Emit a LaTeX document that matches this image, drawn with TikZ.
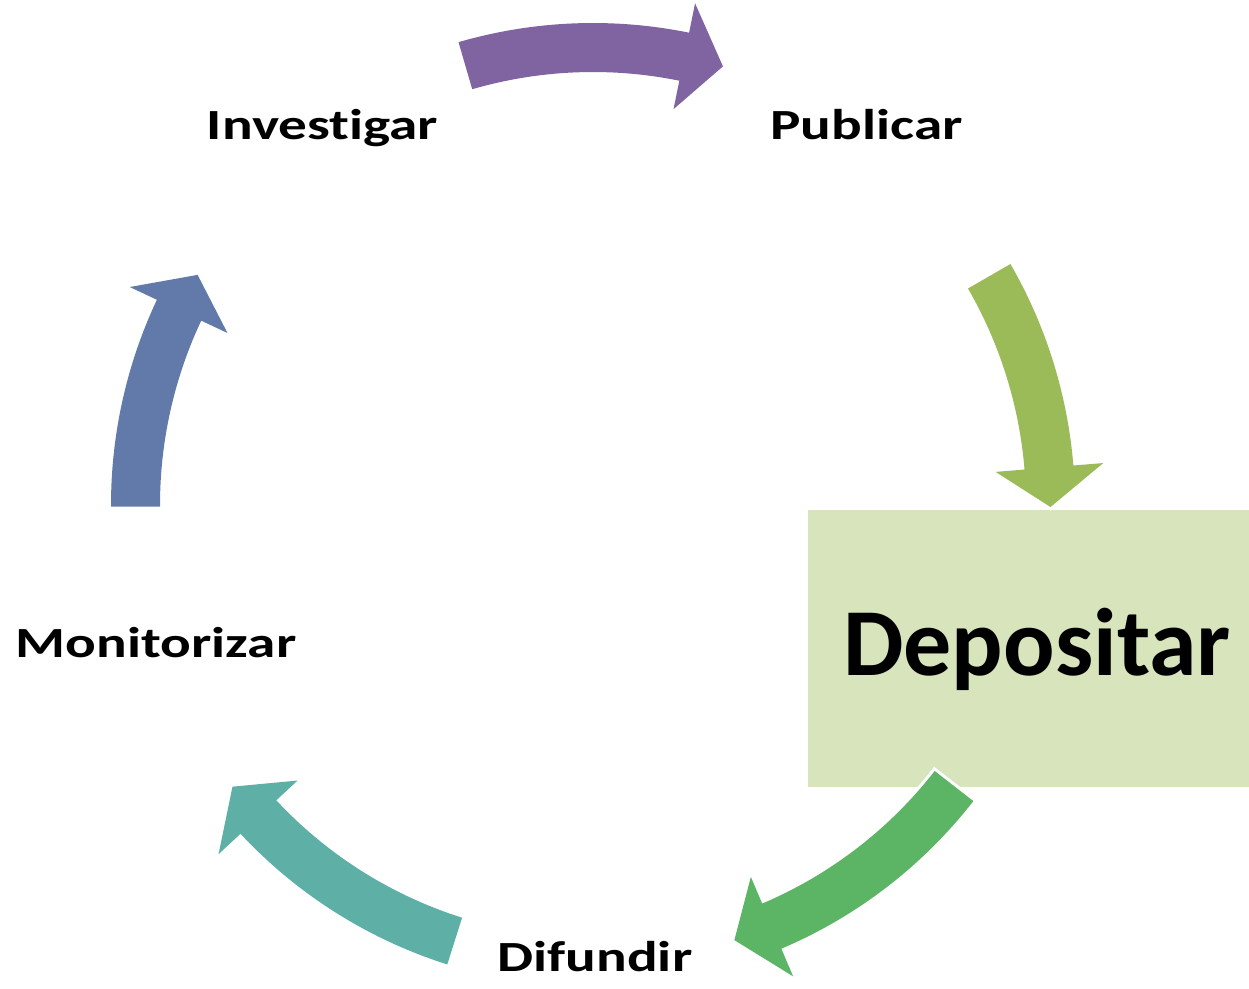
\documentclass[tikz,border=0pt]{standalone}
\usepackage{fontspec}
\setmainfont{Carlito}[Ligatures={NoCommon,NoContextual}]
\newfontfamily\stepfont{Carlito}[FakeStretch=1.33, Ligatures={NoCommon,NoContextual}]

\definecolor{arrowpurple}{RGB}{128,100,162}
\definecolor{arrowlime}{RGB}{155,187,89}
\definecolor{arrowgreen}{RGB}{92,181,101}
\definecolor{arrowteal}{RGB}{94,176,167}
\definecolor{arrowblue}{RGB}{98,122,170}
\definecolor{boxfill}{RGB}{216,228,188}

\tikzset{
  cyclearrow/.style={preaction={draw=white, line width=6pt}},
  steplabel/.style={anchor=base, font=\stepfont\fontsize{43}{50}\selectfont\bfseries},
}

% block arrow on the cycle: colour, tail angle, neck angle, tip angle
\newcommand{\cyclearrow}[4]{%
  \fill[#1, cyclearrow] ([shift={(c)}]#2:482) arc[start angle=#2, end angle=#3, radius=482pt]
    -- ([shift={(c)}]#3:512) -- ([shift={(c)}]#4:457.5) -- ([shift={(c)}]#3:404)
    -- ([shift={(c)}]#3:433) arc[start angle=#3, end angle=#2, radius=433pt] -- cycle;}

\begin{document}
\begin{tikzpicture}[x=1pt, y=1pt]
    \useasboundingbox (0,0) rectangle (1249,-988);
    \coordinate (c) at (593,-505);

    % Highlighted step
    \fill[boxfill] (808,-510) rectangle (1249,-787);

    % Arrows
    \cyclearrow{arrowpurple}{106.2}{78.5}{73.5}
    \cyclearrow{arrowlime}{30}{4.7}{-0.25}
    \cyclearrow{arrowgreen}{-37.9}{-67}{-72}
    \cyclearrow{arrowteal}{252.4}{223}{218}
    \cyclearrow{arrowblue}{180.2}{154.8}{149.8}

    % Steps
    \node[steplabel] (investigar) at (322.5,-139.3) {Investigar};
    \node[steplabel] (publicar) at (866.5,-139.3) {Publicar};
    \node[anchor=base, font=\fontsize{96}{110}\selectfont\bfseries] (depositar) at (1037,-675.7) {Depositar};
    \node[steplabel] (difundir) at (595,-971.7) {Difundir};
    \node[steplabel] (monitorizar) at (156,-657.7) {Monitorizar};
\end{tikzpicture}
\end{document}
